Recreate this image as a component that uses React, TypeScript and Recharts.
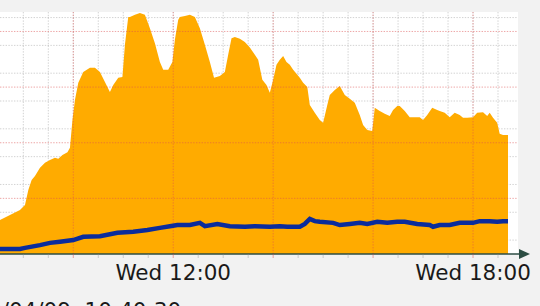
import React from "react";
import {
  ComposedChart,
  Area,
  Line,
  XAxis,
  YAxis,
  CartesianGrid,
  ReferenceLine,
} from "recharts";

// minutes since midnight for the orange area series
const areaTimes = [
  512, 524, 536, 542, 546, 550, 554, 560, 566, 572, 578, 582, 587, 593, 596, 599,
  602, 606, 612, 620, 626, 632, 638, 644, 648, 654, 659, 662, 666, 668, 674, 680,
  686, 692, 698, 704, 708, 714, 719, 722, 726, 728, 734, 740, 746, 752, 758, 764,
  769, 776, 782, 786, 790, 794, 800, 806, 812, 818, 822, 827, 832, 836, 840, 844,
  848, 852, 856, 860, 864, 869, 872, 876, 881, 884, 890, 896, 900, 905, 908, 914,
  920, 926, 932, 938, 944, 948, 953, 959, 962, 968, 974, 980, 984, 989, 992, 998,
  1004, 1013, 1016, 1020, 1025, 1031, 1037, 1040, 1046, 1052, 1058, 1064, 1068,
  1073, 1080, 1085, 1092, 1097, 1100, 1104, 1109, 1112, 1116, 1122,
];
const areaValues = [
  0.61, 0.7, 0.79, 0.88, 1.15, 1.33, 1.4, 1.55, 1.64, 1.69, 1.73, 1.71, 1.78, 1.83, 1.91, 2.41,
  2.77, 3.08, 3.27, 3.35, 3.35, 3.27, 3.09, 2.91, 3.04, 3.17, 3.18, 3.76, 4.26, 4.26, 4.3, 4.33,
  4.3, 4.06, 3.79, 3.45, 3.31, 3.31, 3.45, 3.85, 4.21, 4.26, 4.28, 4.3, 4.26, 4.06, 3.76, 3.45,
  3.17, 3.2, 3.27, 3.58, 3.88, 3.9, 3.87, 3.81, 3.71, 3.58, 3.49, 3.13, 3.04, 2.9, 3.13, 3.4,
  3.49, 3.56, 3.45, 3.4, 3.31, 3.22, 3.17, 3.08, 3.0, 2.68, 2.54, 2.41, 2.36, 2.68, 2.86, 2.95,
  3.02, 2.86, 2.79, 2.72, 2.5, 2.32, 2.23, 2.21, 2.63, 2.57, 2.52, 2.48, 2.59, 2.66, 2.66, 2.57,
  2.46, 2.46, 2.46, 2.41, 2.5, 2.63, 2.59, 2.57, 2.54, 2.46, 2.54, 2.5, 2.45,
  2.45, 2.46, 2.54, 2.55, 2.48, 2.54, 2.45, 2.36, 2.16, 2.14, 2.14,
];

// minutes since midnight for the blue line series
const lineTimes = [
  512, 536, 542, 560, 572, 584, 600, 612, 632, 653, 672, 689, 704, 716, 725, 740,
  752, 758, 773, 788, 806, 818, 836, 848, 857, 872, 878, 884, 890, 896, 912, 920,
  932, 944, 953, 965, 977, 989, 998, 1013, 1028, 1032, 1040, 1052, 1064, 1080,
  1088, 1100, 1109, 1116, 1122,
];
const lineValues = [
  0.09, 0.09, 0.11, 0.16, 0.2, 0.22, 0.25, 0.31, 0.32, 0.38, 0.4, 0.43, 0.47, 0.5, 0.52, 0.52,
  0.56, 0.5, 0.54, 0.5, 0.49, 0.5, 0.49, 0.5, 0.49, 0.49, 0.54, 0.63, 0.59, 0.58, 0.56, 0.52,
  0.54, 0.56, 0.54, 0.58, 0.56, 0.58, 0.58, 0.54, 0.52, 0.49, 0.52, 0.52, 0.56, 0.56,
  0.59, 0.59, 0.58, 0.59, 0.59,
];

const minorXTicks = [
  540, 570, 600, 630, 660, 690, 720, 750, 780, 810, 840, 870, 900, 930, 960, 990,
  1020, 1050, 1080, 1110,
];
const majorXTicks = [600, 720, 840, 960, 1080];
const xTickLabels: Record<number, string> = { 720: "Wed 12:00", 1080: "Wed 18:00" };

const minorYTicks = [
  0, 0.25, 0.5, 0.75, 1, 1.25, 1.5, 1.75, 2, 2.25, 2.5, 2.75, 3, 3.25, 3.5, 3.75, 4, 4.25,
];
const majorYTicks = [1, 2, 3, 4];

const footerText = "2019/04/09  10:40:30";

const areaData = areaTimes.map((t, i) => ({ t, v: areaValues[i] }));
const lineData = lineTimes.map((t, i) => ({ t, v: lineValues[i] }));

const FONT = '"DejaVu Sans", sans-serif';
const MINOR = "rgba(143,143,143,0.4)";
const MAJOR = "rgba(222,79,79,0.5)";
const AXIS = "#2c4d43";

function TimeTick(props: any) {
  const { x, y, payload } = props;
  const isMajor = majorXTicks.includes(payload.value);
  const label = xTickLabels[payload.value];
  return (
    <g>
      <line x1={x} x2={x} y1={y - 4} y2={y} stroke={isMajor ? MAJOR : MINOR} />
      {label && (
        <text x={x} y={y + 22} textAnchor="middle" fontFamily={FONT} fontSize={21.5} fill="#1a1a1a">
          {label}
        </text>
      )}
    </g>
  );
}

function AxisArrow(props: any) {
  const vb = props.viewBox || {};
  const right = vb.x + vb.width;
  const y = vb.y;
  return (
    <g>
      <line x1={right} x2={right + 4} y1={y} y2={y} stroke={AXIS} strokeWidth={1.5} />
      <polygon points={`${right + 1},${y - 5} ${right + 12},${y} ${right + 1},${y + 5}`} fill={AXIS} />
    </g>
  );
}

export default function App() {
  return (
    <div
      style={{
        position: "absolute",
        left: 0,
        top: 0,
        width: 540,
        height: 306,
        overflow: "hidden",
        background: "#f2f2f2",
      }}
    >
      <ComposedChart width={540} height={306} margin={{ top: 12, right: 22, bottom: 0, left: 0 }}>
        <CartesianGrid fill="#ffffff" horizontal={false} vertical={false} />
        <XAxis
          type="number"
          dataKey="t"
          domain={[512, 1134]}
          ticks={minorXTicks}
          interval={0}
          allowDataOverflow
          tickLine={false}
          tickSize={4}
          tickMargin={0}
          tick={(p: any) => <TimeTick {...p} />}
          axisLine={{ stroke: AXIS, strokeWidth: 1.5 }}
          label={(p: any) => <AxisArrow {...p} />}
          height={52}
        />
        <YAxis type="number" dataKey="v" domain={[0, 4.35]} ticks={minorYTicks} hide allowDataOverflow />
        <Area
          data={areaData}
          dataKey="v"
          type="linear"
          stroke="none"
          fill="#ffab00"
          fillOpacity={1}
          isAnimationActive={false}
        />
        <CartesianGrid
          stroke={MINOR}
          strokeDasharray="1.4 1.4"
          horizontalValues={minorYTicks}
          verticalValues={minorXTicks}
        />
        {majorYTicks.map((v) => (
          <ReferenceLine key={"y" + v} y={v} stroke={MAJOR} strokeDasharray="1.4 1.4" />
        ))}
        {majorXTicks.map((v) => (
          <ReferenceLine key={"x" + v} x={v} stroke={MAJOR} strokeDasharray="1.4 1.4" />
        ))}
        <Line
          data={lineData}
          dataKey="v"
          type="linear"
          stroke="#0b2c9c"
          strokeWidth={4.5}
          dot={false}
          isAnimationActive={false}
        />
      </ComposedChart>
      <span
        style={{
          position: "absolute",
          left: -53,
          top: 298,
          fontFamily: FONT,
          fontSize: 21.5,
          color: "#1a1a1a",
          whiteSpace: "pre",
        }}
      >
        {footerText}
      </span>
    </div>
  );
}
